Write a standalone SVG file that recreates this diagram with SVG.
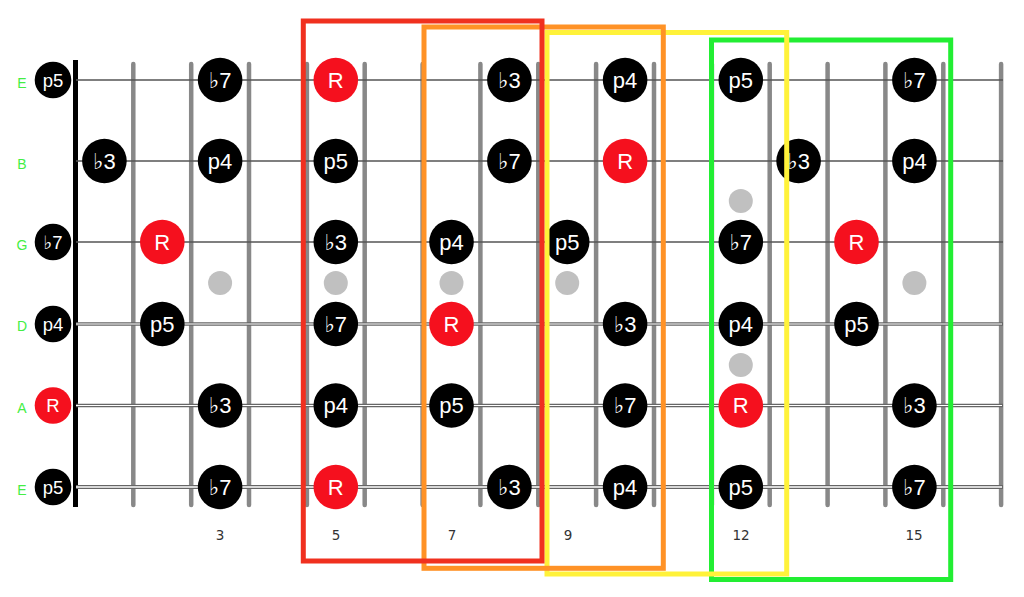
<svg xmlns="http://www.w3.org/2000/svg" width="1024" height="597" viewBox="0 0 1024 597">
<style>
.fret{stroke:#888;stroke-width:4.5;stroke-linecap:round}
.nut{stroke:#000;stroke-width:5}
.str{stroke:#555;stroke-width:1.3}
.wound{stroke:#666;stroke-width:3.6}
.woundc{stroke:#fff;stroke-width:1.2}
.dot{fill:#c0c0c0}
.n{fill:#000}
.r{fill:#f5101e}
.t{fill:#fff;font-family:"Liberation Sans","DejaVu Sans",Arial,sans-serif;font-size:22px;text-anchor:middle}
.to{fill:#fff;font-family:"Liberation Sans","DejaVu Sans",Arial,sans-serif;font-size:18.5px;text-anchor:middle}
.sn{fill:#44ee44;font-family:"Liberation Sans",Arial,sans-serif;font-size:14px;text-anchor:middle}
.fn{fill:#333;font-family:"DejaVu Sans",Verdana,sans-serif;font-size:13.5px;text-anchor:middle}
.box{fill:none;stroke-width:5}
</style>
<rect width="1024" height="597" fill="#fff"/>
<g id="frets">
<line class="nut" x1="75.5" y1="60" x2="75.5" y2="507"/>
<line class="fret" x1="133.3" y1="64" x2="133.3" y2="505"/>
<line class="fret" x1="191.2" y1="64" x2="191.2" y2="505"/>
<line class="fret" x1="249" y1="64" x2="249" y2="505"/>
<line class="fret" x1="306.9" y1="64" x2="306.9" y2="505"/>
<line class="fret" x1="364.7" y1="64" x2="364.7" y2="505"/>
<line class="fret" x1="422.6" y1="64" x2="422.6" y2="505"/>
<line class="fret" x1="480.4" y1="64" x2="480.4" y2="505"/>
<line class="fret" x1="538.3" y1="64" x2="538.3" y2="505"/>
<line class="fret" x1="596.1" y1="64" x2="596.1" y2="505"/>
<line class="fret" x1="654" y1="64" x2="654" y2="505"/>
<line class="fret" x1="711.9" y1="64" x2="711.9" y2="505"/>
<line class="fret" x1="769.7" y1="64" x2="769.7" y2="505"/>
<line class="fret" x1="827.6" y1="64" x2="827.6" y2="505"/>
<line class="fret" x1="885.4" y1="64" x2="885.4" y2="505"/>
<line class="fret" x1="943.3" y1="64" x2="943.3" y2="505"/>
<line class="fret" x1="1001.1" y1="64" x2="1001.1" y2="505"/>
</g>
<g id="markers">
<circle class="dot" cx="220.1" cy="283" r="12"/>
<circle class="dot" cx="335.8" cy="283" r="12"/>
<circle class="dot" cx="451.5" cy="283" r="12"/>
<circle class="dot" cx="567.2" cy="283" r="12"/>
<circle class="dot" cx="740.8" cy="201" r="12"/>
<circle class="dot" cx="740.8" cy="365" r="12"/>
<circle class="dot" cx="914.4" cy="283" r="12"/>
</g>
<g id="strings">
<line class="str" x1="76" y1="80" x2="1003" y2="80"/>
<line class="str" x1="76" y1="161" x2="1003" y2="161"/>
<line class="str" x1="76" y1="242" x2="1003" y2="242"/>
<line class="wound" x1="76" y1="324" x2="1003" y2="324"/>
<line class="woundc" x1="76" y1="324" x2="1002" y2="324"/>
<line class="wound" x1="76" y1="405.5" x2="1003" y2="405.5"/>
<line class="woundc" x1="76" y1="405.5" x2="1002" y2="405.5"/>
<line class="wound" x1="76" y1="487" x2="1003" y2="487" style="stroke-width:4"/>
<line class="woundc" x1="76" y1="487" x2="1002" y2="487" style="stroke-width:1.4"/>
</g>
<g id="string-names">
<text class="sn" x="22" y="88">E</text>
<text class="sn" x="22" y="169">B</text>
<text class="sn" x="22" y="250">G</text>
<text class="sn" x="22" y="331">D</text>
<text class="sn" x="22" y="413">A</text>
<text class="sn" x="22" y="495">E</text>
</g>
<g id="fret-numbers">
<text class="fn" x="220" y="540">3</text>
<text class="fn" x="336" y="540">5</text>
<text class="fn" x="452" y="540">7</text>
<text class="fn" x="568" y="540">9</text>
<text class="fn" x="741" y="540">12</text>
<text class="fn" x="914" y="540">15</text>
</g>
<g id="notes">
<g id="e1-0"><circle class="n" cx="53" cy="80" r="18.3"/><text class="to" x="53" y="86.6">p5</text></g>
<g id="e1-3"><circle class="n" cx="220.1" cy="80" r="22.3"/><text class="t" x="220.1" y="87.8">♭7</text></g>
<g id="e1-5"><circle class="r" cx="335.8" cy="80" r="22.3"/><text class="t" x="335.8" y="87.8">R</text></g>
<g id="e1-8"><circle class="n" cx="509.4" cy="80" r="22.3"/><text class="t" x="509.4" y="87.8">♭3</text></g>
<g id="e1-10"><circle class="n" cx="625.1" cy="80" r="22.3"/><text class="t" x="625.1" y="87.8">p4</text></g>
<g id="e1-12"><circle class="n" cx="740.8" cy="80" r="22.3"/><text class="t" x="740.8" y="87.8">p5</text></g>
<g id="e1-15"><circle class="n" cx="914.4" cy="80" r="22.3"/><text class="t" x="914.4" y="87.8">♭7</text></g>
<g id="b-1"><circle class="n" cx="104.4" cy="161" r="22.3"/><text class="t" x="104.4" y="168.8">♭3</text></g>
<g id="b-3"><circle class="n" cx="220.1" cy="161" r="22.3"/><text class="t" x="220.1" y="168.8">p4</text></g>
<g id="b-5"><circle class="n" cx="335.8" cy="161" r="22.3"/><text class="t" x="335.8" y="168.8">p5</text></g>
<g id="b-8"><circle class="n" cx="509.4" cy="161" r="22.3"/><text class="t" x="509.4" y="168.8">♭7</text></g>
<g id="b-10"><circle class="r" cx="625.1" cy="161" r="22.3"/><text class="t" x="625.1" y="168.8">R</text></g>
<g id="b-13"><circle class="n" cx="798.6" cy="161" r="22.3"/><text class="t" x="798.6" y="168.8">♭3</text></g>
<g id="b-15"><circle class="n" cx="914.4" cy="161" r="22.3"/><text class="t" x="914.4" y="168.8">p4</text></g>
<g id="g-0"><circle class="n" cx="53" cy="242" r="18.3"/><text class="to" x="53" y="248.6">♭7</text></g>
<g id="g-2"><circle class="r" cx="162.3" cy="242" r="22.3"/><text class="t" x="162.3" y="249.8">R</text></g>
<g id="g-5"><circle class="n" cx="335.8" cy="242" r="22.3"/><text class="t" x="335.8" y="249.8">♭3</text></g>
<g id="g-7"><circle class="n" cx="451.5" cy="242" r="22.3"/><text class="t" x="451.5" y="249.8">p4</text></g>
<g id="g-9"><circle class="n" cx="567.2" cy="242" r="22.3"/><text class="t" x="567.2" y="249.8">p5</text></g>
<g id="g-12"><circle class="n" cx="740.8" cy="242" r="22.3"/><text class="t" x="740.8" y="249.8">♭7</text></g>
<g id="g-14"><circle class="r" cx="856.5" cy="242" r="22.3"/><text class="t" x="856.5" y="249.8">R</text></g>
<g id="d-0"><circle class="n" cx="53" cy="324" r="18.3"/><text class="to" x="53" y="330.6">p4</text></g>
<g id="d-2"><circle class="n" cx="162.3" cy="324" r="22.3"/><text class="t" x="162.3" y="331.8">p5</text></g>
<g id="d-5"><circle class="n" cx="335.8" cy="324" r="22.3"/><text class="t" x="335.8" y="331.8">♭7</text></g>
<g id="d-7"><circle class="r" cx="451.5" cy="324" r="22.3"/><text class="t" x="451.5" y="331.8">R</text></g>
<g id="d-10"><circle class="n" cx="625.1" cy="324" r="22.3"/><text class="t" x="625.1" y="331.8">♭3</text></g>
<g id="d-12"><circle class="n" cx="740.8" cy="324" r="22.3"/><text class="t" x="740.8" y="331.8">p4</text></g>
<g id="d-14"><circle class="n" cx="856.5" cy="324" r="22.3"/><text class="t" x="856.5" y="331.8">p5</text></g>
<g id="a-0"><circle class="r" cx="53" cy="405.5" r="18.3"/><text class="to" x="53" y="412.1">R</text></g>
<g id="a-3"><circle class="n" cx="220.1" cy="405.5" r="22.3"/><text class="t" x="220.1" y="413.3">♭3</text></g>
<g id="a-5"><circle class="n" cx="335.8" cy="405.5" r="22.3"/><text class="t" x="335.8" y="413.3">p4</text></g>
<g id="a-7"><circle class="n" cx="451.5" cy="405.5" r="22.3"/><text class="t" x="451.5" y="413.3">p5</text></g>
<g id="a-10"><circle class="n" cx="625.1" cy="405.5" r="22.3"/><text class="t" x="625.1" y="413.3">♭7</text></g>
<g id="a-12"><circle class="r" cx="740.8" cy="405.5" r="22.3"/><text class="t" x="740.8" y="413.3">R</text></g>
<g id="a-15"><circle class="n" cx="914.4" cy="405.5" r="22.3"/><text class="t" x="914.4" y="413.3">♭3</text></g>
<g id="e6-0"><circle class="n" cx="53" cy="487" r="18.3"/><text class="to" x="53" y="493.6">p5</text></g>
<g id="e6-3"><circle class="n" cx="220.1" cy="487" r="22.3"/><text class="t" x="220.1" y="494.8">♭7</text></g>
<g id="e6-5"><circle class="r" cx="335.8" cy="487" r="22.3"/><text class="t" x="335.8" y="494.8">R</text></g>
<g id="e6-8"><circle class="n" cx="509.4" cy="487" r="22.3"/><text class="t" x="509.4" y="494.8">♭3</text></g>
<g id="e6-10"><circle class="n" cx="625.1" cy="487" r="22.3"/><text class="t" x="625.1" y="494.8">p4</text></g>
<g id="e6-12"><circle class="n" cx="740.8" cy="487" r="22.3"/><text class="t" x="740.8" y="494.8">p5</text></g>
<g id="e6-15"><circle class="n" cx="914.4" cy="487" r="22.3"/><text class="t" x="914.4" y="494.8">♭7</text></g>
</g>
<g id="boxes">
<rect id="box-green" class="box" x="711.5" y="40" width="239.2" height="539.5" stroke="#22ee33"/>
<rect id="box-yellow" class="box" x="547" y="32.5" width="239.7" height="541.5" stroke="#fff23a"/>
<rect id="box-orange" class="box" x="424" y="27" width="239.3" height="541.3" stroke="#ff9226"/>
<rect id="box-red" class="box" x="303.3" y="21" width="238.7" height="540" stroke="#f0301f"/>
</g>
</svg>
